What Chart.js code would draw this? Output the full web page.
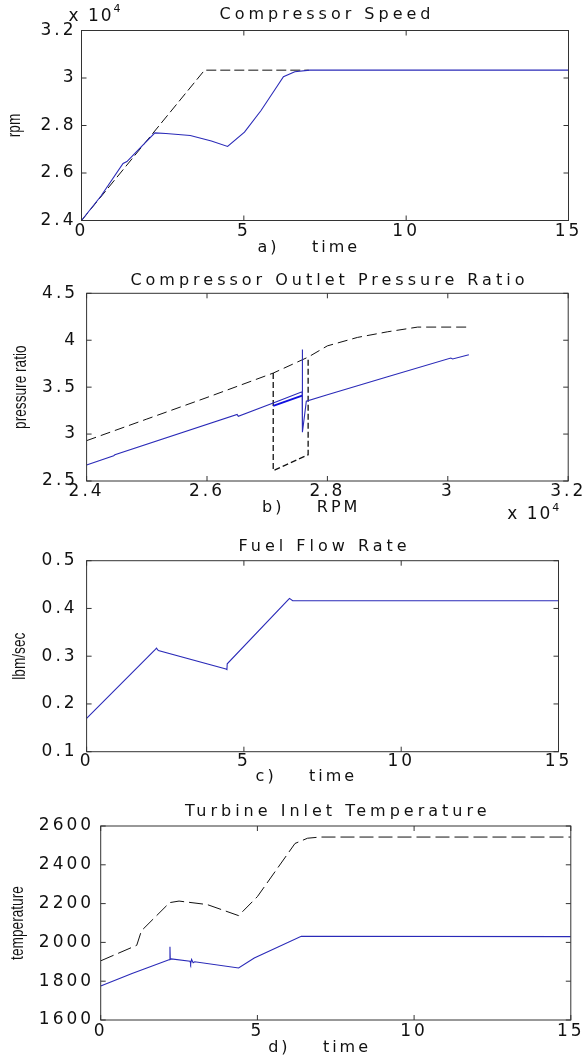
<!DOCTYPE html>
<html>
<head>
<meta charset="utf-8">
<script src="https://cdn.jsdelivr.net/npm/chart.js@4.4.1/dist/chart.umd.min.js"></script>
<style>
  body { margin: 0; background: #fff; width: 585px; height: 1060px; overflow: hidden; position: relative; }
  canvas { position: absolute; left: 0; }
</style>
</head>
<body>
<canvas id="speedChart" width="585" height="262" style="top:0"></canvas>
<canvas id="pressureChart" width="585" height="266" style="top:262px"></canvas>
<canvas id="fuelChart" width="585" height="264" style="top:528px"></canvas>
<canvas id="tempChart" width="585" height="268" style="top:792px"></canvas>
<script>
// a) compressor speed vs time
const speedDemandTime = [0, 3.79, 7.0];
const speedDemandRpm = [24000, 30330, 30330];
const speedTime = [0, 0.6, 1.28, 1.4, 1.8, 2.26, 2.6, 3.35, 4.0, 4.5, 5.02, 5.53, 6.0, 6.22, 6.57, 7.03, 15];
const speedRpm = [24000, 25030, 26400, 26480, 27050, 27690, 27660, 27580, 27350, 27120, 27720, 28630, 29600, 30050, 30260, 30330, 30330];

// b) pressure ratio vs rpm
const surgeLineRpm = [24000, 25000, 26000, 27100, 27680, 28000, 28500, 29000, 29500, 30350];
const surgeLineRatio = [2.93, 3.16, 3.39, 3.65, 3.82, 3.94, 4.03, 4.09, 4.14, 4.14];
const surgeLoopRpm = [27100, 27100, 27680, 27680];
const surgeLoopRatio = [3.65, 2.61, 2.78, 3.82];
const opLineRpm = [24000, 24450, 24470, 26500, 26520, 27100, 27580, 27580, 27590, 27650, 28000, 29000, 30050, 30080, 30350];
const opLineRatio = [2.67, 2.77, 2.78, 3.21, 3.19, 3.33, 3.45, 3.90, 3.02, 3.35, 3.42, 3.61, 3.81, 3.80, 3.845];
const opLoopRpm = [27100, 27580];
const opLoopRatio = [3.30, 3.41];

// c) fuel flow vs time
const fuelTime = [0, 2.17, 2.22, 2.28, 4.43, 4.46, 4.47, 6.42, 6.45, 6.55, 15];
const fuelFlow = [0.17, 0.313, 0.317, 0.312, 0.273, 0.272, 0.284, 0.419, 0.421, 0.416, 0.416];

// d) turbine inlet temperature vs time
const titLimitTime = [0, 1.15, 1.3, 2.2, 2.5, 3.4, 4.4, 5.0, 5.6, 6.2, 6.6, 7.0, 15];
const titLimit = [1905, 1985, 2060, 2205, 2213, 2195, 2138, 2236, 2373, 2510, 2537, 2543, 2543];
const titTime = [0, 1.0, 2.2, 2.21, 2.22, 2.25, 2.85, 2.87, 2.9, 2.95, 3.0, 4.4, 4.9, 6.4, 15];
const tit = [1775, 1840, 1912, 1978, 1912, 1915, 1903, 1890, 1912, 1895, 1900, 1868, 1920, 2032, 2030];

const FONT = '"DejaVu Sans", sans-serif';
const YFONT = '"Liberation Sans", Arial, sans-serif';
const BLUE = '#2a2ab8';
const INK = '#111';

function pts(xs, ys) {
    return xs.map((v, i) => ({ x: v, y: ys[i] }));
}

function line(xs, ys, color, dash, width) {
    return {
        data: pts(xs, ys),
        showLine: true,
        borderColor: color,
        borderWidth: width || 1,
        borderDash: dash || [],
        pointRadius: 0,
        tension: 0,
        fill: false
    };
}

// box, inward ticks, titles
const frame = {
    id: 'frame',
    beforeDraw(chart) {
        chart.ctx.letterSpacing = '3px';
    },
    afterDraw(chart, args, opts) {
        const ctx = chart.ctx;
        const a = chart.chartArea;
        const x = chart.scales.x, y = chart.scales.y;
        ctx.save();
        ctx.letterSpacing = '0px';
        ctx.strokeStyle = '#333';
        ctx.lineWidth = 1;
        ctx.strokeRect(a.left, a.top, a.right - a.left, a.bottom - a.top);
        ctx.beginPath();
        x.ticks.forEach(t => {
            const p = x.getPixelForValue(t.value);
            ctx.moveTo(p, a.bottom); ctx.lineTo(p, a.bottom - 5);
            ctx.moveTo(p, a.top); ctx.lineTo(p, a.top + 5);
        });
        y.ticks.forEach(t => {
            const p = y.getPixelForValue(t.value);
            ctx.moveTo(a.left, p); ctx.lineTo(a.left + 5, p);
            ctx.moveTo(a.right, p); ctx.lineTo(a.right - 5, p);
        });
        ctx.stroke();

        ctx.fillStyle = INK;
        ctx.textAlign = 'center';
        ctx.textBaseline = 'middle';
        ctx.font = '16px ' + FONT;
        ctx.letterSpacing = '4px';
        ctx.fillText(opts.title, (a.left + a.right) / 2 + 2, a.top - opts.titleGap);

        if (opts.exp) {
            const ex = opts.exp.side === 'top' ? a.left + opts.exp.dx : a.right + opts.exp.dx;
            const ey = opts.exp.side === 'top' ? a.top + opts.exp.dy : a.bottom + opts.exp.dy;
            ctx.textAlign = 'left';
            ctx.font = '17px ' + FONT;
            ctx.letterSpacing = '2px';
            ctx.fillText('x 10', ex, ey);
            const w = ctx.measureText('x 10').width;
            ctx.font = '11px ' + FONT;
            ctx.letterSpacing = '0px';
            ctx.fillText('4', ex + w, ey - 7);
        }

        // condensed, rotated y label
        ctx.letterSpacing = '0px';
        ctx.textAlign = 'center';
        ctx.font = '18px ' + YFONT;
        ctx.translate(opts.yTitleX, (a.top + a.bottom) / 2);
        ctx.rotate(-Math.PI / 2);
        ctx.scale(0.76, 1);
        ctx.fillText(opts.yTitle, 0, 0);
        ctx.restore();
        ctx.letterSpacing = '0px';
    }
};

function panel(id, cfg) {
    return new Chart(document.getElementById(id), {
        type: 'scatter',
        data: { datasets: cfg.datasets },
        options: {
            responsive: false,
            animation: false,
            events: [],
            layout: { padding: { top: cfg.top, right: cfg.right, left: 0, bottom: 0 } },
            plugins: {
                legend: { display: false },
                tooltip: { enabled: false },
                frame: { title: cfg.title, titleGap: cfg.titleGap, yTitle: cfg.yTitle, yTitleX: cfg.yTitleX, exp: cfg.exp }
            },
            scales: {
                x: {
                    type: 'linear',
                    min: cfg.x[0], max: cfg.x[1],
                    grid: { display: false, drawTicks: false, tickLength: 0 },
                    border: { display: false },
                    ticks: {
                        stepSize: cfg.x[2], autoSkip: false, maxRotation: 0,
                        padding: cfg.xPad, color: INK,
                        font: { family: FONT, size: 17 },
                        callback: cfg.xFmt
                    },
                    title: {
                        display: true, text: cfg.xTitle, color: INK,
                        font: { family: FONT, size: 16 },
                        padding: { top: 0, bottom: cfg.xTitlePad }
                    },
                    afterFit(s) { s.height = cfg.xHeight; s.paddingLeft = 0; s.paddingRight = 0; }
                },
                y: {
                    type: 'linear',
                    min: cfg.y[0], max: cfg.y[1],
                    grid: { display: false, drawTicks: false, tickLength: 0 },
                    border: { display: false },
                    ticks: {
                        stepSize: cfg.y[2], autoSkip: false,
                        padding: cfg.yPad, color: INK,
                        font: { family: FONT, size: 17 },
                        callback: cfg.yFmt
                    },
                    afterFit(s) { s.width = cfg.left; s.paddingTop = 0; s.paddingBottom = 0; }
                }
            }
        },
        plugins: [frame]
    });
}

const plain = v => String(v);
const e4 = v => String(Number((v / 10000).toFixed(1)));
const one = v => v.toFixed(1);

panel('speedChart', {
    datasets: [
        line(speedTime, speedRpm, BLUE, [], 1.1),
        line(speedDemandTime, speedDemandRpm, '#111', [10, 4], 1)
    ],
    top: 30.5, right: 16.5, left: 81.5, xHeight: 41.5,
    x: [0, 15, 5], y: [24000, 32000, 2000],
    xFmt: plain, yFmt: e4, xPad: 1, yPad: 5,
    title: 'Compressor Speed', titleGap: 15.5,
    xTitle: 'a)    time    ', xTitlePad: 4.2,
    yTitle: 'rpm', yTitleX: 15,
    exp: { side: 'top', dx: -13, dy: -14 }
});

panel('pressureChart', {
    datasets: [
        line(opLineRpm, opLineRatio, BLUE, [], 1.1),
        line(opLoopRpm, opLoopRatio, '#1010e0', [], 2),
        line(surgeLineRpm, surgeLineRatio, '#111', [10, 5], 1),
        line(surgeLoopRpm, surgeLoopRatio, '#111', [6, 3], 1.3)
    ],
    top: 31.3, right: 16.8, left: 86.6, xHeight: 47,
    x: [24000, 32000, 2000], y: [2.5, 4.5, 0.5],
    xFmt: e4, yFmt: plain, xPad: 0, yPad: 8.5,
    title: 'Compressor Outlet Pressure Ratio', titleGap: 12.6,
    xTitle: 'b)    RPM    ', xTitlePad: 10.2,
    yTitle: 'pressure ratio', yTitleX: 21,
    exp: { side: 'bottom', dx: -61, dy: 34 }
});

panel('fuelChart', {
    datasets: [
        line(fuelTime, fuelFlow, BLUE, [], 1.1)
    ],
    top: 32.7, right: 26.5, left: 86.6, xHeight: 40.3,
    x: [0, 15, 5], y: [0.1, 0.5, 0.1],
    xFmt: plain, yFmt: one, xPad: 0, yPad: 9,
    title: 'Fuel Flow Rate', titleGap: 14,
    xTitle: 'c)    time    ', xTitlePad: 5.8,
    yTitle: 'lbm/sec', yTitleX: 20
});

panel('tempChart', {
    datasets: [
        line(titTime, tit, BLUE, [], 1.1),
        line(titLimitTime, titLimit, '#111', [14, 5], 1)
    ],
    top: 34, right: 14.2, left: 100.7, xHeight: 40,
    x: [0, 15, 5], y: [1600, 2600, 200],
    xFmt: plain, yFmt: plain, xPad: 1.5, yPad: 6.6,
    title: 'Turbine Inlet Temperature', titleGap: 14.3,
    xTitle: 'd)    time    ', xTitlePad: 2.2,
    yTitle: 'temperature', yTitleX: 18
});
</script>
</body>
</html>
